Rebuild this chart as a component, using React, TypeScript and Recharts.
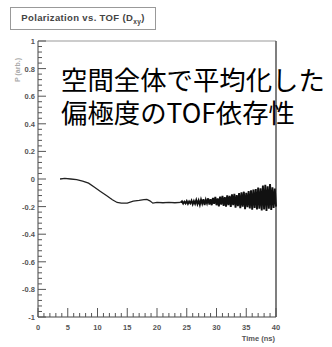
import { ComposedChart, Line, XAxis, YAxis, ReferenceLine } from 'recharts';

// smooth part: time (ns) and mean polarization
const SMOOTH_T = [3.7, 4.5, 5.5, 6.5, 7.5, 8.5, 9.5, 10.5, 11.5, 12.5, 13.3, 14, 15, 16, 17, 17.8, 18.3, 18.8, 19.3, 20, 21, 22, 23, 24];
const SMOOTH_P = [0, 0.005, 0, -0.005, -0.015, -0.03, -0.06, -0.09, -0.12, -0.15, -0.17, -0.175, -0.175, -0.16, -0.155, -0.15, -0.148, -0.158, -0.175, -0.17, -0.172, -0.17, -0.172, -0.17];

// noisy tail (statistics run out at late TOF)
const NOISE_T = [
  24, 24.2, 24.4, 24.6, 24.8, 25, 25.2, 25.4, 25.6, 25.8, 26, 26.2, 26.4, 26.6, 26.8, 27, 27.2, 27.4, 27.6, 27.8, 28,
  28.2, 28.4, 28.6, 28.8, 29, 29.2, 29.4, 29.6, 29.8, 30, 30.2, 30.4, 30.6, 30.8, 31, 31.2, 31.4, 31.6, 31.8, 32,
  32.2, 32.4, 32.6, 32.8, 33, 33.2, 33.4, 33.6, 33.8, 34, 34.2, 34.4, 34.6, 34.8, 35, 35.2, 35.4, 35.6, 35.8, 36,
  36.2, 36.4, 36.6, 36.8, 37, 37.2, 37.4, 37.6, 37.8, 38, 38.2, 38.4, 38.6, 38.8, 39, 39.2, 39.4, 39.6, 39.8, 40,
];
const NOISE_P = [
  -0.17, -0.162, -0.178, -0.165, -0.177, -0.16, -0.18, -0.163, -0.176, -0.157, -0.183, -0.16, -0.18, -0.152, -0.182, -0.156, -0.186, -0.15, -0.178, -0.147, -0.188,
  -0.15, -0.176, -0.14, -0.185, -0.146, -0.19, -0.137, -0.18, -0.13, -0.19, -0.14, -0.198, -0.127, -0.186, -0.122, -0.195, -0.132, -0.2, -0.118, -0.19,
  -0.122, -0.203, -0.112, -0.19, -0.107, -0.208, -0.116, -0.196, -0.102, -0.212, -0.097, -0.2, -0.092, -0.218, -0.1, -0.205, -0.087, -0.214, -0.082, -0.222,
  -0.077, -0.21, -0.072, -0.22, -0.062, -0.215, -0.067, -0.228, -0.048, -0.22, -0.042, -0.232, -0.052, -0.215, -0.037, -0.224, -0.06, -0.21, -0.07, -0.2,
];

const X_TICKS = Array.from({ length: 41 }, (_, i) => i);
const Y_TICKS = Array.from({ length: 51 }, (_, i) => Math.round((-1 + i * 0.04) * 100) / 100);

const TITLE = 'Polarization vs. TOF (D';
const NOTE = ['空間全体で平均化した', '偏極度のTOF依存性'];

const smooth = SMOOTH_T.map((t, i) => ({ t, p: SMOOTH_P[i] }));
const noise = NOISE_T.map((t, i) => ({ t, p: NOISE_P[i] }));

const tickFont = { fontFamily: 'Liberation Sans, Arial, sans-serif', fontSize: 7.5, fontWeight: 700, fill: '#555' };

const XTick = (props: any) => {
  const { x, y, payload } = props;
  const v = payload.value;
  const major = v % 5 === 0;
  return (
    <g>
      <line x1={x} x2={x} y1={y} y2={y - (major ? 9 : 4)} stroke="#555" />
      {major && <text x={x} y={y + 13} textAnchor="middle" {...tickFont}>{v}</text>}
    </g>
  );
};

const YTick = (props: any) => {
  const { x, y, payload } = props;
  const v = payload.value;
  const major = Math.round(v * 100) % 20 === 0;
  return (
    <g>
      <line x1={x} x2={x + (major ? 8 : 4)} y1={y} y2={y} stroke="#555" />
      {major && <text x={x - 3} y={y + 3} textAnchor="end" {...tickFont}>{String(v)}</text>}
    </g>
  );
};

export default function App() {
  return (
    <div style={{ position: 'absolute', left: 0, top: 0, width: 332, height: 347, background: '#fff' }}>
      <ComposedChart width={332} height={347} margin={{ top: 41, right: 56, bottom: 0, left: 0 }}>
        <XAxis dataKey="t" type="number" domain={[0, 40]} ticks={X_TICKS} interval={0} height={30}
          tickSize={0} tickMargin={0} tick={<XTick />} tickLine={false} axisLine={{ stroke: '#444' }} />
        <YAxis type="number" domain={[-1, 1]} ticks={Y_TICKS} interval={0} width={38}
          tickSize={0} tickMargin={0} tick={<YTick />} tickLine={false} axisLine={{ stroke: '#444' }} />
        <ReferenceLine y={1} stroke="#999" />
        <ReferenceLine x={40} stroke="#555" strokeWidth={1.5} />
        <Line data={smooth} dataKey="p" type="linear" stroke="#222" strokeWidth={1.3} dot={false} isAnimationActive={false} />
        <Line data={noise} dataKey="p" type="linear" stroke="#111" strokeWidth={1.9} dot={false} isAnimationActive={false} />
      </ComposedChart>

      <div style={{
        position: 'absolute', left: 10, top: 7, width: 144, height: 21, border: '1px solid #999',
        fontFamily: 'Liberation Sans, Arial, sans-serif', fontSize: 9.5, fontWeight: 700, color: '#444',
        letterSpacing: 0.35, display: 'flex', alignItems: 'center', justifyContent: 'center', boxSizing: 'content-box',
      }}>
        <span>{TITLE}<sub style={{ fontSize: 6.5 }}>xy</sub>)</span>
      </div>

      <div style={{
        position: 'absolute', left: 14, top: 82, transform: 'rotate(-90deg)', transformOrigin: 'left top',
        fontFamily: 'Liberation Sans, Arial, sans-serif', fontSize: 7, fontWeight: 700, color: '#aaa', whiteSpace: 'nowrap',
      }}>
        P (arb.)
      </div>

      <div style={{
        position: 'absolute', right: 57, top: 334, fontFamily: 'Liberation Sans, Arial, sans-serif',
        fontSize: 7.5, fontWeight: 700, color: '#555',
      }}>
        Time (ns)
      </div>

      <div style={{
        position: 'absolute', left: 61, top: 62, fontFamily: '"Noto Sans CJK JP", sans-serif',
        fontSize: 26.4, lineHeight: '33px', color: '#000', whiteSpace: 'nowrap',
      }}>
        {NOTE.map((s) => <div key={s}>{s}</div>)}
      </div>
    </div>
  );
}
